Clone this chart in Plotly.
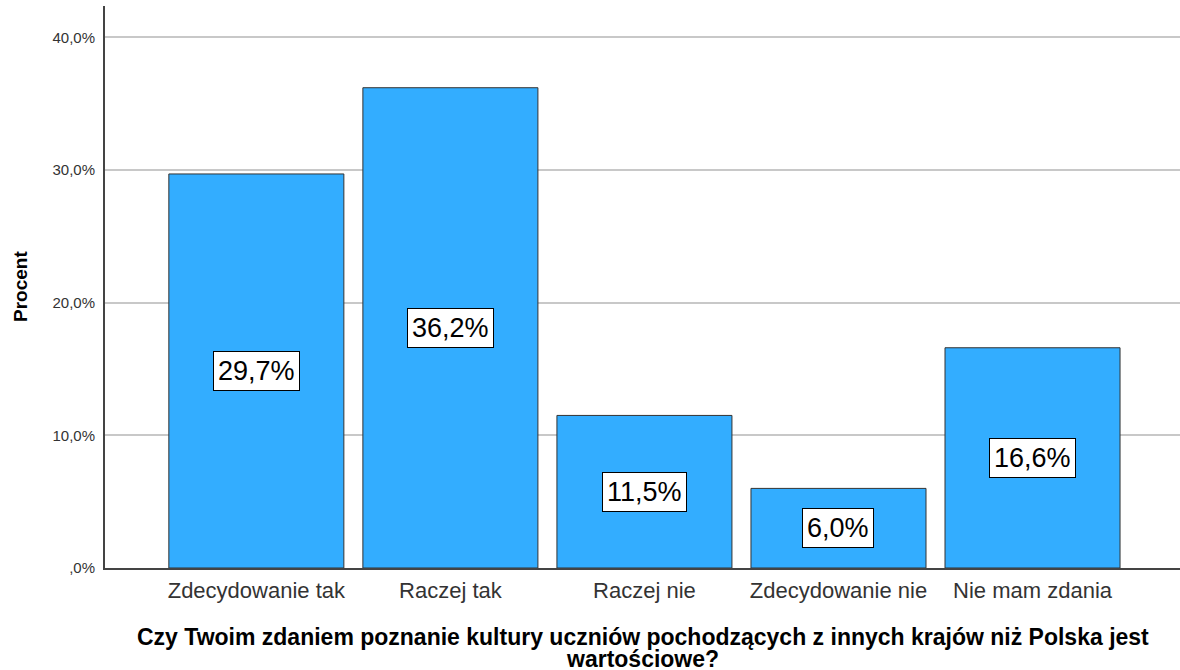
import plotly.graph_objects as go

categories = ["Zdecydowanie tak", "Raczej tak", "Raczej nie", "Zdecydowanie nie", "Nie mam zdania"]
values = [29.7, 36.2, 11.5, 6.0, 16.6]
tick_vals = [0, 10, 20, 30, 40]
tick_text = [",0%", "10,0%", "20,0%", "30,0%", "40,0%"]
x_title_lines = ["Czy Twoim zdaniem poznanie kultury uczniów pochodzących z innych krajów niż Polska jest",
                 "wartościowe?"]
y_title = "Procent"

FONT = "Arial, Liberation Sans, sans-serif"

def fmt(v):
    return f"{v:.1f}".replace(".", ",") + "%"

fig = go.Figure()
fig.add_trace(go.Bar(
    x=categories, y=values,
    marker=dict(color="#33adff", line=dict(color="#333333", width=1)),
    hoverinfo="skip",
))

annotations = []
for c, v in zip(categories, values):
    annotations.append(dict(
        x=c, y=v / 2, xref="x", yref="y", text=fmt(v), showarrow=False,
        font=dict(family=FONT, size=27, color="#000000"),
        bgcolor="#ffffff", bordercolor="#000000", borderwidth=1, borderpad=4,
    ))
annotations.append(dict(
    x=0, y=0.5, xref="paper", yref="paper", text=f"<b>{y_title}</b>", showarrow=False,
    textangle=-90, xanchor="center", yanchor="middle", xshift=-85,
    font=dict(family=FONT, size=19, color="#000000"),
))
for i, line in enumerate(x_title_lines):
    annotations.append(dict(
        x=0.5, y=0, xref="paper", yref="paper", text=f"<b>{line}</b>", showarrow=False,
        xanchor="center", yanchor="top", yshift=-54 - 22 * i,
        font=dict(family=FONT, size=23, color="#000000"),
    ))

fig.update_layout(
    width=1180, height=670,
    margin=dict(l=105, r=0, t=6, b=102),
    paper_bgcolor="white", plot_bgcolor="white",
    bargap=0.098,
    showlegend=False,
    annotations=annotations,
    xaxis=dict(
        range=[-0.78, 4.76], showgrid=False, zeroline=False,
        showline=True, linecolor="#444444", linewidth=2,
        ticks="", tickfont=dict(family=FONT, size=22, color="#333333"),
        ticklabelstandoff=2,
    ),
    yaxis=dict(
        range=[0, 42.36], tickvals=tick_vals, ticktext=tick_text,
        showgrid=True, gridcolor="#c8c8c8", gridwidth=1.5, zeroline=False,
        showline=True, linecolor="#444444", linewidth=2,
        ticks="", tickfont=dict(family=FONT, size=15, color="#333333"),
        ticklabelstandoff=5,
    ),
)

fig.write_html("out.html", config={"displayModeBar": False},
               post_script="document.body.style.margin='0';document.body.style.overflow='hidden';")
